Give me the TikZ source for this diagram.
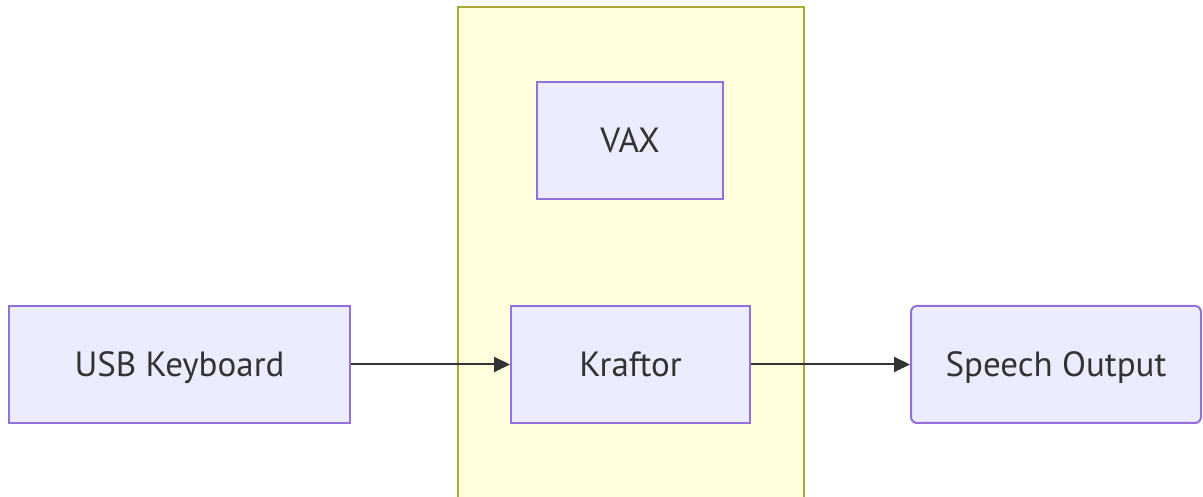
\documentclass[tikz,border=0pt]{standalone}
\usepackage{fontspec}
\setmainfont{PT Sans}
\usetikzlibrary{arrows.meta}
\definecolor{nodefill}{HTML}{ECECFF}
\definecolor{nodestroke}{HTML}{9370DB}
\definecolor{clusterfill}{HTML}{FFFFDE}
\definecolor{clusterstroke}{HTML}{AAAA33}
\definecolor{txt}{HTML}{333333}
\tikzset{
  box/.style={draw=nodestroke, fill=nodefill, line width=2pt, inner sep=0pt, text=txt,
    font=\fontsize{35}{42}\selectfont, text height=24.5pt, text depth=0pt},
  conn/.style={draw=txt, line width=2pt, -{Triangle[length=16pt,width=15pt]}},
}
\begin{document}
\begin{tikzpicture}[x=1pt,y=1pt]
\useasboundingbox (0,0) rectangle (1203,497);
\begin{scope}
\clip (0,0) rectangle (1203,497);
\draw[draw=clusterstroke, fill=clusterfill, line width=2pt] (458,-10) rectangle (804,490);
\end{scope}
\node[box, minimum width=186pt, minimum height=117pt] (vax) at (630,356.5) {VAX};
\node[box, minimum width=341pt, minimum height=117pt] (usb) at (179.5,132.5) {USB Keyboard};
\node[box, minimum width=239pt, minimum height=117pt] (kraftor) at (630.5,132.5) {Kraftor};
\node[box, rounded corners=6pt, minimum width=290pt, minimum height=117pt] (speech) at (1056,132.5) {Speech Output};
\draw[conn] (usb.east) -- (kraftor.west);
\draw[conn] (kraftor.east) -- (speech.west);
\end{tikzpicture}
\end{document}
